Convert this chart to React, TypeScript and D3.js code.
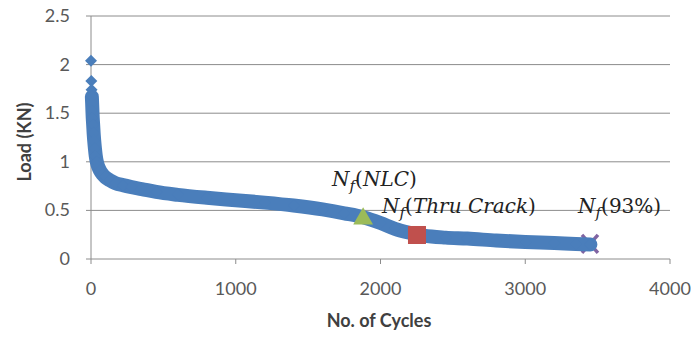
import React from "react";
import * as d3 from "d3";

const cycles = [0, 2, 4, 6, 8, 10, 12, 15, 18, 22, 27, 33, 40, 50, 62, 80, 100, 130, 170, 220, 280, 350, 450, 600, 800, 1000, 1200, 1400, 1600, 1750, 1880, 2000, 2100, 2200, 2300, 2450, 2600, 2800, 3000, 3200, 3350, 3450];
const loads = [2.04, 1.83, 1.74, 1.67, 1.6, 1.52, 1.45, 1.38, 1.3, 1.22, 1.14, 1.06, 1.0, 0.95, 0.91, 0.87, 0.84, 0.81, 0.78, 0.76, 0.74, 0.72, 0.69, 0.66, 0.63, 0.605, 0.58, 0.55, 0.51, 0.47, 0.43, 0.37, 0.31, 0.27, 0.24, 0.22, 0.21, 0.19, 0.175, 0.165, 0.155, 0.15];

const xTicks = [0, 1000, 2000, 3000, 4000];
const yTicks = [0, 0.5, 1, 1.5, 2, 2.5];

const nlc = { x: 1880, y: 0.425 };
const thru = { x: 2252, y: 0.247 };
const n93 = { x: 3447, y: 0.155 };

export default function App() {
  const W = 691, H = 337;
  const x = d3.scaleLinear().domain([0, 4000]).range([91, 670]);
  const y = d3.scaleLinear().domain([0, 2.5]).range([259, 16]);
  const pts = cycles.map((c, i) => ({ c, l: loads[i] }));
  const linePts = pts.filter((p) => p.l <= 1.68);
  const line = d3.line<{ c: number; l: number }>().x((d) => x(d.c)).y((d) => y(d.l)).curve(d3.curveMonotoneX);
  const diamond = d3.symbol().type(d3.symbolSquare).size(72)();
  const tri = d3.symbol().type(d3.symbolTriangle).size(170)();
  const blue = "#4A7EBB";
  const grid = "#8c8c8c";
  const tickFont = "Lato, 'Open Sans', sans-serif";
  const mathFont = "'DejaVu Serif', 'Liberation Serif', serif";
  const Ann = ({ px, py, label, italicInner }: { px: number; py: number; label: string; italicInner: boolean }) => (
    <text x={px} y={py} fontFamily={mathFont} fontSize={20} fill="#222">
      <tspan fontStyle="italic">N</tspan>
      <tspan fontStyle="italic" fontSize={15} dy={5}>f</tspan>
      <tspan dy={-5}>(</tspan>
      <tspan fontStyle={italicInner ? "italic" : "normal"}>{label}</tspan>
      <tspan>)</tspan>
    </text>
  );
  return (
    <div style={{ position: "absolute", left: 0, top: 0 }}>
      <svg width={W} height={H} style={{ display: "block", background: "#fff" }}>
        {yTicks.slice(1).map((t) => (
          <line key={"g" + t} x1={x(0)} x2={x(4000)} y1={y(t)} y2={y(t)} stroke={grid} strokeWidth={1} />
        ))}
        <line x1={x(0)} x2={x(0)} y1={y(2.5)} y2={y(0)} stroke={grid} />
        <line x1={x(0)} x2={x(4000)} y1={y(0)} y2={y(0)} stroke={grid} />
        {yTicks.map((t) => (
          <line key={"yt" + t} x1={x(0) - 5} x2={x(0)} y1={y(t)} y2={y(t)} stroke={grid} />
        ))}
        {xTicks.map((t) => (
          <line key={"xt" + t} x1={x(t)} x2={x(t)} y1={y(0)} y2={y(0) + 5} stroke={grid} />
        ))}
        {yTicks.map((t) => (
          <text key={"yl" + t} x={x(0) - 21} y={y(t) + 6} textAnchor="end" fontFamily={tickFont} fontSize={18} fill="#595959">
            {String(t)}
          </text>
        ))}
        {xTicks.map((t) => (
          <text key={"xl" + t} x={x(t)} y={y(0) + 36} textAnchor="middle" fontFamily={tickFont} fontSize={18} fill="#595959">
            {String(t)}
          </text>
        ))}
        <text x={379} y={327} textAnchor="middle" fontFamily={tickFont} fontWeight="bold" fontSize={18} fill="#404040">
          No. of Cycles
        </text>
        <text transform={`translate(31,${142}) rotate(-90)`} textAnchor="middle" fontFamily={tickFont} fontWeight="bold" fontSize={18} fill="#404040">
          Load (KN)
        </text>
        <g transform={`translate(${x(n93.x)},${y(n93.y)})`} stroke="#8064A2" strokeWidth={3.5}>
          <line x1={-8} y1={-9} x2={8} y2={9} />
          <line x1={-8} y1={9} x2={8} y2={-9} />
        </g>
        <path d={line(linePts) || ""} fill="none" stroke={blue} strokeWidth={14} strokeLinejoin="round" strokeLinecap="round" />
        {pts.map((p, i) => (
          <path key={"d" + i} d={diamond} transform={`translate(${x(p.c)},${y(p.l)}) rotate(45)`} fill={blue} />
        ))}
        <path d={tri} transform={`translate(${x(nlc.x)},${y(nlc.y) + 1})`} fill="#9BBB59" />
        <rect x={x(thru.x) - 9} y={y(thru.y) - 9} width={18} height={18} fill="#C0504D" />
        <Ann px={332} py={186} label="NLC" italicInner={true} />
        <Ann px={382} py={213} label="Thru Crack" italicInner={true} />
        <Ann px={578} py={213} label="93%" italicInner={false} />
      </svg>
    </div>
  );
}
